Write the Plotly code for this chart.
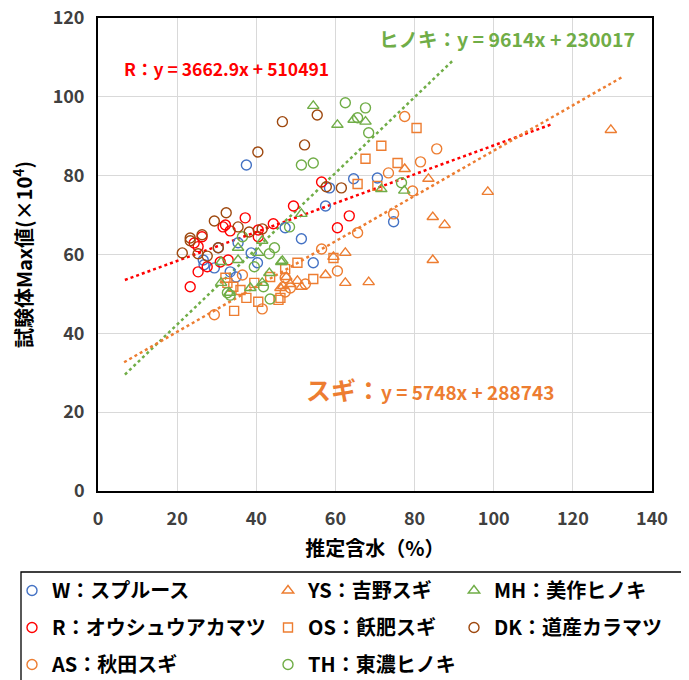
import plotly.graph_objects as go

FONT = "Noto Sans CJK JP"

# ---- data (x: 推定含水 %, y: 試験体Max値 ×10^4) ----
w_x = [37.5, 64.6, 70.6, 58.5, 57.5, 74.7, 47.3, 51.4, 54.4, 26.6, 26.8, 29.4, 30.4, 38.7, 40.3, 35.4, 33.4, 34.9]
w_y = [82.7, 79.2, 79.4, 76.9, 72.3, 68.3, 66.8, 64.0, 57.9, 58.6, 57.4, 56.6, 61.7, 60.4, 57.9, 63.0, 55.6, 54.3]

ys_x = [129.6, 77.5, 83.5, 98.5, 84.6, 87.6, 84.6, 62.5, 57.5, 62.5, 68.4, 59.5, 47.6, 46.1, 50.4, 51.4, 46.8, 48.6]
ys_y = [91.6, 81.7, 79.2, 75.9, 69.5, 67.5, 58.6, 60.4, 54.8, 52.8, 53.0, 59.4, 54.3, 51.5, 53.3, 51.8, 52.0, 52.5]

mh_x = [54.4, 60.5, 64.6, 67.6, 71.6, 77.4, 51.4, 46.6, 35.4, 41.5, 40.5, 31.1, 35.4, 46.3, 43.3, 31.1, 38.5, 41.5, 33.2]
mh_y = [97.7, 92.9, 94.2, 93.7, 76.6, 76.2, 70.3, 58.4, 61.7, 63.5, 60.4, 58.1, 58.6, 58.1, 55.3, 52.8, 51.5, 52.8, 50.3]

r_x = [49.4, 56.5, 63.5, 60.5, 37.2, 44.3, 32.2, 33.4, 40.5, 40.5, 26.3, 24.3, 25.3, 25.3, 23.3, 30.9, 32.9, 27.6, 31.6]
r_y = [72.3, 78.4, 69.8, 66.8, 69.3, 67.8, 67.5, 66.0, 66.2, 64.5, 64.5, 62.9, 62.0, 55.6, 51.8, 58.1, 58.6, 56.9, 67.0]

os_x = [80.5, 71.6, 67.6, 75.7, 65.6, 70.6, 59.5, 50.4, 47.3, 54.4, 46.1, 32.2, 32.7, 34.2, 36.0, 39.5, 43.5, 37.5, 40.5, 45.6, 34.4]
os_y = [92.1, 87.6, 84.3, 83.2, 77.9, 77.4, 59.1, 57.9, 56.3, 53.8, 49.0, 54.1, 52.8, 51.8, 51.0, 52.8, 54.3, 49.0, 48.0, 48.5, 45.7]

dk_x = [46.6, 55.4, 40.4, 52.2, 57.7, 61.5, 32.4, 29.4, 35.4, 38.2, 41.5, 23.3, 23.3, 26.3, 21.3, 25.3, 27.6, 30.4]
dk_y = [93.7, 95.4, 86.0, 87.8, 77.2, 76.9, 70.6, 68.5, 67.0, 65.7, 66.5, 64.2, 63.5, 65.0, 60.4, 60.2, 59.6, 61.7]

as_x = [77.5, 85.6, 81.5, 73.4, 79.5, 74.7, 65.6, 56.5, 60.5, 47.3, 52.4, 48.6, 36.5, 41.5, 29.4, 47.3]
as_y = [95.0, 86.8, 83.5, 80.7, 76.1, 70.3, 65.5, 61.4, 55.8, 54.1, 52.5, 51.5, 54.8, 46.2, 44.7, 50.5]

th_x = [62.5, 67.6, 65.6, 68.4, 51.4, 54.4, 76.7, 48.4, 36.5, 44.6, 43.3, 39.5, 41.8, 32.7, 33.4, 43.5]
th_y = [98.5, 97.2, 94.7, 90.9, 82.7, 83.2, 78.2, 67.0, 64.5, 61.7, 60.2, 56.9, 51.8, 50.3, 49.7, 48.7]

# trendlines (y in N = slope*x + intercept), drawn over x range
trend_names = ["R", "ヒノキ", "スギ"]
trend_slope = [3662.9, 9614, 5748]
trend_intercept = [510491, 230017, 288743]
trend_xrange = [[6.8, 115.0], [6.8, 90.0], [6.6, 132.5]]

x_ticks = [0, 20, 40, 60, 80, 100, 120, 140]
y_ticks = [0, 20, 40, 60, 80, 100, 120]

BLUE = "#4472C4"
ORANGE = "#ED7D31"
GREEN = "#70AD47"
RED = "#FF0000"
BROWN = "#9E480E"

series = [
    ("W：スプルース", w_x, w_y, "circle-open", BLUE, "legend"),
    ("R：オウシュウアカマツ", r_x, r_y, "circle-open", RED, "legend"),
    ("AS：秋田スギ", as_x, as_y, "circle-open", ORANGE, "legend"),
    ("YS：吉野スギ", ys_x, ys_y, "triangle-up-open", ORANGE, "legend2"),
    ("OS：飫肥スギ", os_x, os_y, "square-open", ORANGE, "legend2"),
    ("TH：東濃ヒノキ", th_x, th_y, "circle-open", GREEN, "legend2"),
    ("MH：美作ヒノキ", mh_x, mh_y, "triangle-up-open", GREEN, "legend3"),
    ("DK：道産カラマツ", dk_x, dk_y, "circle-open", BROWN, "legend3"),
]

fig = go.Figure()

trend_colors = [RED, GREEN, ORANGE]
for name, s, b, xr, c in zip(trend_names, trend_slope, trend_intercept, trend_xrange, trend_colors):
    xs = list(xr)
    ys = [(s * v + b) / 1e4 for v in xs]
    fig.add_trace(go.Scatter(x=xs, y=ys, mode="lines", showlegend=False,
                             line=dict(color=c, width=2.5, dash="dot"), hoverinfo="skip"))

for i, (name, xs, ys, sym, col, lg) in enumerate(series):
    size = 10 if sym != "square-open" else 9
    fig.add_trace(go.Scatter(
        x=xs, y=ys, mode="markers", name=name, legend=lg, legendgroup=f"g{i}",
        marker=dict(symbol=sym, size=size, color=col, line=dict(color=col, width=1.4)),
    ))

legend_common = dict(
    font=dict(family=FONT, size=20, color="#000000", weight="bold"),
    bgcolor="rgba(0,0,0,0)", borderwidth=0, tracegroupgap=8,
    yanchor="top", xanchor="left",
    itemwidth=30,
)

# page-pixel -> paper conversion (plot area spans page x 98..652, y 18..491;
# the page body has an 8px margin, figure margins are reduced accordingly)
def px_to_paper_x(px):
    return (px - 98) / 554

def px_to_paper_y(py):
    return (491 - py) / 473

fig.update_layout(
    width=681, height=672,
    margin=dict(l=90, r=37, t=10, b=189, autoexpand=False),
    paper_bgcolor="white", plot_bgcolor="white",
    font=dict(family=FONT, color="#262626"),
    showlegend=True,
    legend=dict(x=px_to_paper_x(12), y=px_to_paper_y(571), **legend_common),
    legend2=dict(x=px_to_paper_x(268), y=px_to_paper_y(571), **legend_common),
    legend3=dict(x=px_to_paper_x(454), y=px_to_paper_y(571), **legend_common),
    xaxis=dict(range=[0, 140], tickvals=x_ticks, ticktext=[str(v) for v in x_ticks],
               showgrid=True, gridcolor="#D9D9D9", gridwidth=1, zeroline=False,
               showline=True, linecolor="#000000", linewidth=1.5, mirror=True,
               ticks="", ticklabelstandoff=11, ticklabeloverflow="allow",
               tickfont=dict(family=FONT, size=18, color="#404040", weight="bold"),
               title=dict(text="推定含水（%）", font=dict(family=FONT, size=20, color="#000000", weight="bold"), standoff=13)),
    yaxis=dict(range=[0, 120], tickvals=y_ticks, ticktext=[str(v) for v in y_ticks],
               showgrid=True, gridcolor="#D9D9D9", gridwidth=1, zeroline=False,
               showline=True, linecolor="#000000", linewidth=1.8, mirror=True,
               ticks="", ticklabelstandoff=8, ticklabeloverflow="allow",
               tickfont=dict(family=FONT, size=18, color="#404040", weight="bold"),
               title=dict(text="試験体Max値(×10<sup>4</sup>)", font=dict(family=FONT, size=20, color="#000000", weight="bold"), standoff=16)),
    shapes=[dict(type="rect", xref="paper", yref="paper",
                 x0=px_to_paper_x(21), x1=px_to_paper_x(682),
                 y0=px_to_paper_y(700), y1=px_to_paper_y(572),
                 line=dict(color="#000000", width=1.3), fillcolor="rgba(0,0,0,0)")],
    annotations=[
        dict(text="R：y = 3662.9x + 510491", x=6.0, y=107.3, xref="x", yref="y", xanchor="left",
             showarrow=False, font=dict(family=FONT, size=17.5, color=RED, weight="bold")),
        dict(text="ヒノキ：y = 9614x + 230017", x=136.2, y=114.9, xref="x", yref="y", xanchor="right",
             showarrow=False, font=dict(family=FONT, size=19.5, color=GREEN, weight="bold")),
        dict(text="<span style='font-size:25px'>スギ：</span>y = 5748x + 288743", x=52.0, y=25.9,
             xref="x", yref="y", xanchor="left",
             showarrow=False, font=dict(family=FONT, size=19, color=ORANGE, weight="bold")),
    ],
)

fig.write_html("out.html")
